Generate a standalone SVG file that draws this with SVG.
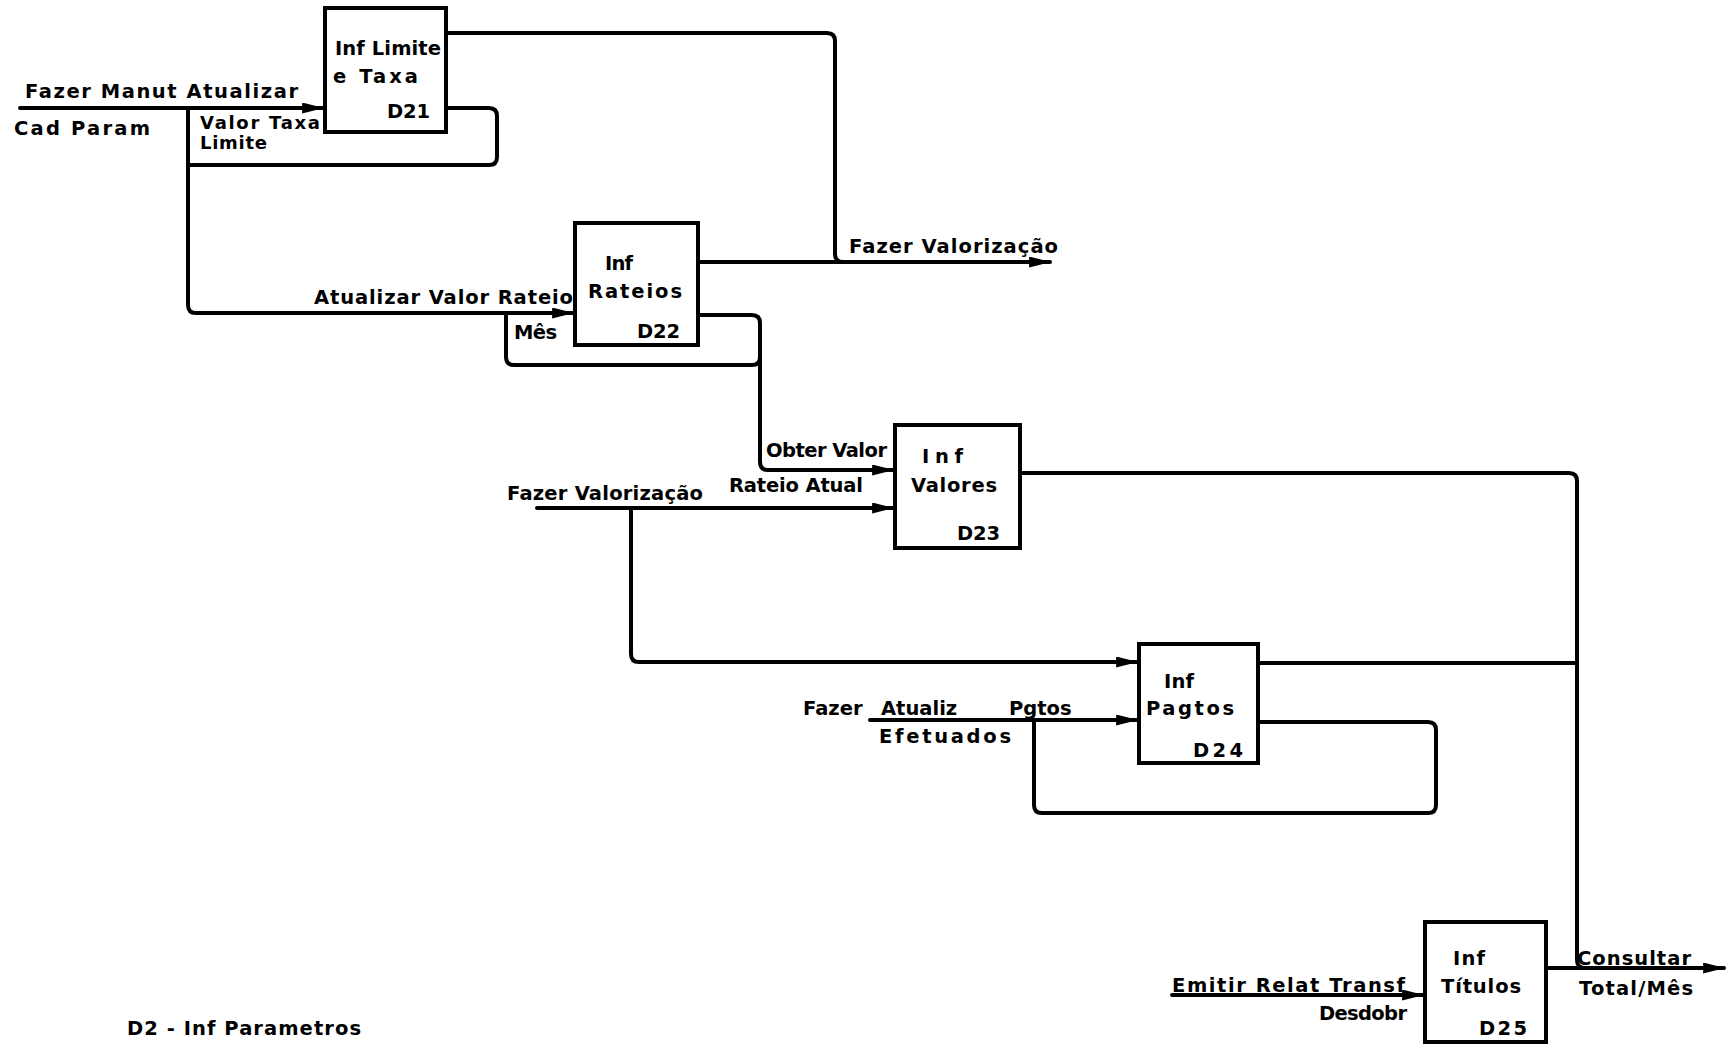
<svg xmlns="http://www.w3.org/2000/svg" width="1726" height="1044" viewBox="0 0 1726 1044">
<defs>
<style>
.b{fill:#fff;stroke:#000;stroke-width:4}
.c{fill:none;stroke:#000;stroke-width:4;stroke-linejoin:round;stroke-linecap:round}
.t{font-family:"DejaVu Sans","Liberation Sans",Arial,sans-serif;font-weight:bold;font-size:19.5px;fill:#000}
.s{font-size:18px}
</style>
<marker id="ar" viewBox="0 0 20 10" refX="19" refY="5" markerWidth="22" markerHeight="11" markerUnits="userSpaceOnUse" orient="auto">
<path d="M0,0 L20,5 L0,10 z" fill="#000"/>
</marker>
</defs>
<rect width="1726" height="1044" fill="#fff"/>
<g id="connectors">
<path class="c" d="M20,108 H323" marker-end="url(#ar)"/>
<path class="c" d="M446,108 H489 Q497,108 497,116 V157 Q497,165 489,165 H188"/>
<path class="c" d="M188,108 V305 Q188,313 196,313 H573" marker-end="url(#ar)"/>
<path class="c" d="M446,33 H827 Q835,33 835,41 V254 Q835,262 843,262"/>
<path class="c" d="M698,262 H1050" marker-end="url(#ar)"/>
<path class="c" d="M698,315 H752 Q760,315 760,323 V462 Q760,470 768,470 H893" marker-end="url(#ar)"/>
<path class="c" d="M760,357 Q760,365 752,365 H514 Q506,365 506,357 V316"/>
<path class="c" d="M537,508 H893" marker-end="url(#ar)"/>
<path class="c" d="M631,508 V654 Q631,662 639,662 H1137" marker-end="url(#ar)"/>
<path class="c" d="M1020,473 H1569 Q1577,473 1577,481 V960 Q1577,968 1585,968"/>
<path class="c" d="M1258,663 H1577"/>
<path class="c" d="M1546,968 H1724" marker-end="url(#ar)"/>
<path class="c" d="M870,720 H1137" marker-end="url(#ar)"/>
<path class="c" d="M1258,722 H1428 Q1436,722 1436,730 V805 Q1436,813 1428,813 H1042 Q1034,813 1034,805 V720"/>
<path class="c" d="M1172,995 H1423" marker-end="url(#ar)"/>
</g>
<g id="labels">
<text class="t" x="25" y="98" textLength="273" lengthAdjust="spacing">Fazer Manut Atualizar</text>
<text class="t" x="14" y="135" textLength="136" lengthAdjust="spacing">Cad Param</text>
<text class="t s" x="200" y="129" textLength="120" lengthAdjust="spacing">Valor Taxa</text>
<text class="t s" x="200" y="149" textLength="67" lengthAdjust="spacing">Limite</text>
<text class="t" x="314" y="304" textLength="259" lengthAdjust="spacing">Atualizar Valor Rateio</text>
<text class="t" x="514" y="339" textLength="43" lengthAdjust="spacing">Mês</text>
<text class="t" x="849" y="253" textLength="209" lengthAdjust="spacing">Fazer Valorização</text>
<text class="t" x="766" y="457" textLength="121" lengthAdjust="spacing">Obter Valor</text>
<text class="t" x="729" y="492" textLength="134" lengthAdjust="spacing">Rateio Atual</text>
<text class="t" x="507" y="500" textLength="196" lengthAdjust="spacing">Fazer Valorização</text>
<text class="t" y="715"><tspan x="803">Fazer</tspan><tspan x="881">Atualiz</tspan><tspan x="1009">Pgtos</tspan></text>
<text class="t" x="879" y="743" textLength="132" lengthAdjust="spacing">Efetuados</text>
<text class="t" x="1172" y="992" textLength="233" lengthAdjust="spacing">Emitir Relat Transf</text>
<text class="t" x="1319" y="1020" textLength="88" lengthAdjust="spacing">Desdobr</text>
<text class="t" x="1577" y="965" textLength="114" lengthAdjust="spacing">Consultar</text>
<text class="t" x="1579" y="995" textLength="114" lengthAdjust="spacing">Total/Mês</text>
<text class="t" x="127" y="1035" textLength="234" lengthAdjust="spacing">D2 - Inf Parametros</text>
</g>
<g id="D21">
<rect class="b" x="325" y="8" width="121" height="124"/>
<text class="t" x="335" y="55" textLength="106" lengthAdjust="spacing">Inf Limite</text>
<text class="t" x="333" y="83" textLength="85" lengthAdjust="spacing">e Taxa</text>
<text class="t" x="387" y="118" textLength="43" lengthAdjust="spacing">D21</text>
</g>
<g id="D22">
<rect class="b" x="575" y="223" width="123" height="122"/>
<text class="t" x="605" y="270" textLength="28" lengthAdjust="spacing">Inf</text>
<text class="t" x="588" y="298" textLength="94" lengthAdjust="spacing">Rateios</text>
<text class="t" x="637" y="338" textLength="43" lengthAdjust="spacing">D22</text>
</g>
<g id="D23">
<rect class="b" x="895" y="425" width="125" height="123"/>
<text class="t" x="922" y="463" textLength="41" lengthAdjust="spacing">Inf</text>
<text class="t" x="911" y="492" textLength="86" lengthAdjust="spacing">Valores</text>
<text class="t" x="957" y="540" textLength="43" lengthAdjust="spacing">D23</text>
</g>
<g id="D24">
<rect class="b" x="1139" y="644" width="119" height="119"/>
<text class="t" x="1164" y="688" textLength="30" lengthAdjust="spacing">Inf</text>
<text class="t" x="1146" y="715" textLength="88" lengthAdjust="spacing">Pagtos</text>
<text class="t" x="1193" y="757" textLength="50" lengthAdjust="spacing">D24</text>
</g>
<g id="D25">
<rect class="b" x="1425" y="922" width="121" height="120"/>
<text class="t" x="1453" y="965" textLength="32" lengthAdjust="spacing">Inf</text>
<text class="t" x="1441" y="993" textLength="80" lengthAdjust="spacing">Títulos</text>
<text class="t" x="1479" y="1035" textLength="48" lengthAdjust="spacing">D25</text>
</g>
</svg>
